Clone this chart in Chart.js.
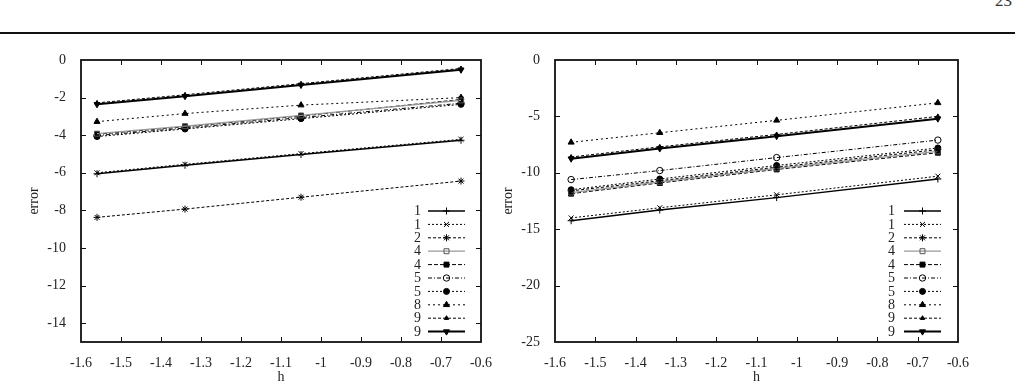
<!DOCTYPE html>
<html>
<head>
<meta charset="utf-8">
<script src="https://cdn.jsdelivr.net/npm/chart.js@4/dist/chart.umd.min.js"></script>
<style>
  html,body{margin:0;padding:0;background:#fff;}
  body{width:1015px;height:388px;position:relative;overflow:hidden;font-family:'Liberation Serif','Times New Roman',serif;}
  #rule{position:absolute;left:0;top:32px;width:1015px;height:0;border-top:2px solid #111;}
  #pg{position:absolute;right:3px;top:-9px;font-size:17px;color:#333;}
  .wrap{position:absolute;top:0;height:388px;}
</style>
</head>
<body>
<div id="rule"></div>
<div id="pg">23</div>
<div class="wrap" style="left:0;width:500px;"><canvas id="c1" width="500" height="388"></canvas></div>
<div class="wrap" style="left:500px;width:515px;"><canvas id="c2" width="515" height="388"></canvas></div>
<script>
// ---- data ----
const hVals = [-1.56, -1.34, -1.05, -0.65];
const seriesLabels = ['1','1','2','4','4','5','5','8','9','9'];
const xTicks = [-1.6,-1.5,-1.4,-1.3,-1.2,-1.1,-1.0,-0.9,-0.8,-0.7,-0.6];
const yTicksLeft = [0,-2,-4,-6,-8,-10,-12,-14];
const yTicksRight = [0,-5,-10,-15,-20,-25];

// left panel
const L1a = [-6.05, -5.60, -5.03, -4.27];
const L1b = [-6.00, -5.55, -4.98, -4.22];
const L2  = [-8.37, -7.93, -7.30, -6.44];
const L4a = [-3.92, -3.52, -2.95, -2.15];
const L4b = [-3.95, -3.55, -2.98, -2.10];
const L5a = [-4.02, -3.62, -3.06, -2.30];
const L5b = [-4.07, -3.67, -3.12, -2.36];
const L8  = [-3.28, -2.85, -2.40, -2.00];
const L9a = [-2.28, -1.85, -1.26, -0.45];
const L9b = [-2.36, -1.93, -1.33, -0.52];

// right panel
const R1a = [-14.25, -13.30, -12.20, -10.55];
const R1b = [-14.00, -13.10, -11.95, -10.30];
const R2  = [-11.60, -10.70, -9.50, -7.95];
const R4a = [-11.75, -10.80, -9.60, -8.10];
const R4b = [-11.85, -10.90, -9.70, -8.22];
const R5a = [-10.60, -9.80, -8.65, -7.10];
const R5b = [-11.50, -10.55, -9.35, -7.80];
const R8  = [-7.30, -6.45, -5.35, -3.80];
const R9a = [-8.60, -7.70, -6.60, -5.00];
const R9b = [-8.75, -7.85, -6.75, -5.20];

// ---- styles ----
const styles = [
  {borderColor:'#000', borderWidth:1.4, borderDash:[],        pointStyle:'cross',    pointRadius:3.5, fill:'#000'},
  {borderColor:'#000', borderWidth:1,   borderDash:[2,2],     pointStyle:'crossRot', pointRadius:3.5, fill:'#000'},
  {borderColor:'#000', borderWidth:1,   borderDash:[3,2],     pointStyle:'star',     pointRadius:3.5, fill:'#000'},
  {borderColor:'#999', borderWidth:1.2, borderDash:[],        pointStyle:'rect',     pointRadius:3.5, fill:'rgba(0,0,0,0)', pb:'#555'},
  {borderColor:'#000', borderWidth:1,   borderDash:[4,2],     pointStyle:'rect',     pointRadius:3.5, fill:'#000'},
  {borderColor:'#000', borderWidth:1,   borderDash:[4,2,1,2], pointStyle:'circle',   pointRadius:3.2, fill:'rgba(0,0,0,0)'},
  {borderColor:'#000', borderWidth:1,   borderDash:[2,2],     pointStyle:'circle',   pointRadius:3,   fill:'#000'},
  {borderColor:'#000', borderWidth:1,   borderDash:[2,3],     pointStyle:'triangle', pointRadius:3.5, fill:'#000'},
  {borderColor:'#000', borderWidth:1,   borderDash:[3,2],     pointStyle:'triangle', pointRadius:2.5, fill:'#000'},
  {borderColor:'#000', borderWidth:2,   borderDash:[],        pointStyle:'triangle', pointRadius:3.5, fill:'#000', rot:180}
];

function buildDatasets(arrs){
  return arrs.map((vals,i)=>{
    const s = styles[i];
    return {
      label: seriesLabels[i],
      data: vals.map((v,j)=>({x:hVals[j], y:v})),
      borderColor: s.borderColor, borderWidth: s.borderWidth, borderDash: s.borderDash,
      pointStyle: s.pointStyle, pointRadius: s.pointRadius, pointRotation: s.rot||0,
      pointBackgroundColor: s.fill, pointBorderColor: s.pb||'#000', pointBorderWidth: 1,
      fill:false, tension:0
    };
  });
}

const fontFam = "'Liberation Serif','Times New Roman',serif";
const FS = 14;
Chart.defaults.font.family = fontFam;
Chart.defaults.font.size = FS;
Chart.defaults.color = '#222';

const framePlugin = {
  id:'gpFrame',
  afterDraw(chart){
    const ctx = chart.ctx, a = chart.chartArea;
    const xs = chart.scales.x, ys = chart.scales.y;
    ctx.save();
    ctx.strokeStyle = '#111'; ctx.lineWidth = 1;
    ctx.beginPath();
    xs.ticks.forEach(t=>{
      if (t.value <= xs.min + 1e-9 || t.value >= xs.max - 1e-9) return;
      const p = Math.round(xs.getPixelForValue(t.value)) + 0.5;
      ctx.moveTo(p, a.bottom); ctx.lineTo(p, a.bottom - 5);
      ctx.moveTo(p, a.top); ctx.lineTo(p, a.top + 5);
    });
    ys.ticks.forEach(t=>{
      if (t.value <= ys.min + 1e-9 || t.value >= ys.max - 1e-9) return;
      const p = Math.round(ys.getPixelForValue(t.value)) + 0.5;
      ctx.moveTo(a.left, p); ctx.lineTo(a.left + 5, p);
      ctx.moveTo(a.right, p); ctx.lineTo(a.right - 5, p);
    });
    ctx.stroke();
    ctx.lineWidth = 1.8;
    ctx.strokeRect(a.left, a.top, a.right - a.left, a.bottom - a.top);
    ctx.restore();
  }
};

function drawMarker(ctx, ds, x, y){
  if (Chart.helpers && Chart.helpers.drawPoint){
    Chart.helpers.drawPoint(ctx, {pointStyle: ds.pointStyle, radius: ds.pointRadius, rotation: ds.pointRotation||0, borderWidth: ds.pointBorderWidth}, x, y);
  } else {
    ctx.beginPath(); ctx.arc(x,y,ds.pointRadius,0,Math.PI*2); ctx.fill(); ctx.stroke();
  }
}

const legendPlugin = {
  id:'gpLegend',
  afterDraw(chart, args, opts){
    const ctx = chart.ctx, a = chart.chartArea;
    ctx.save();
    chart.data.datasets.forEach((ds,i)=>{
      const y = a.bottom - opts.first + i*opts.step;
      ctx.font = "14px " + fontFam;
      ctx.textAlign = 'right'; ctx.textBaseline = 'middle'; ctx.fillStyle = '#222';
      ctx.fillText(ds.label, a.right - opts.labelGap, y + 0.5);
      const x1 = a.right - opts.x1, x2 = a.right - opts.x2;
      ctx.beginPath();
      ctx.setLineDash(ds.borderDash||[]);
      ctx.lineWidth = ds.borderWidth; ctx.strokeStyle = ds.borderColor;
      ctx.moveTo(x1,y); ctx.lineTo(x2,y); ctx.stroke();
      ctx.setLineDash([]);
      ctx.fillStyle = ds.pointBackgroundColor; ctx.strokeStyle = ds.pointBorderColor; ctx.lineWidth = ds.pointBorderWidth;
      drawMarker(ctx, ds, (x1+x2)/2, y);
    });
    ctx.restore();
  }
};

function makeChart(id, arrs, yMin, yTicks, yWidth, padRight, yTitlePad, legendOpts){
  return new Chart(document.getElementById(id), {
    type:'line',
    data:{datasets: buildDatasets(arrs)},
    options:{
      responsive:false, animation:false, devicePixelRatio:1,
      layout:{padding:{top:60, right:padRight, left:0, bottom:0}},
      plugins:{legend:{display:false}, tooltip:{enabled:false}, gpLegend: legendOpts},
      scales:{
        x:{type:'linear', min:-1.6, max:-0.6,
           grid:{display:false}, border:{display:false},
           afterBuildTicks:(s)=>{ s.ticks = xTicks.map(v=>({value:v})); },
           afterFit:(s)=>{ s.height = 46; },
           ticks:{padding:5, color:'#222', font:{size:FS}, maxRotation:0, autoSkip:false,
                  callback:(v)=>String(Number(Number(v).toFixed(1)))},
           title:{display:true, text:'h', color:'#222', font:{size:FS}, padding:{top:0,bottom:2}}
        },
        y:{type:'linear', min:yMin, max:0,
           grid:{display:false}, border:{display:false},
           afterBuildTicks:(s)=>{ s.ticks = yTicks.map(v=>({value:v})); },
           afterFit:(s)=>{ s.width = yWidth; },
           ticks:{padding:7, color:'#222', font:{size:FS}, autoSkip:false,
                  callback:(v)=>String(v)},
           title:{display:true, text:'error', color:'#222', font:{size:FS}, padding:{top:yTitlePad,bottom:0}}
        }
      }
    },
    plugins:[framePlugin, legendPlugin]
  });
}

makeChart('c1', [L1a,L1b,L2,L4a,L4b,L5a,L5b,L8,L9a,L9b], -15, yTicksLeft, 81, 19, 26,
  {first:131, step:13.4, labelGap:60, x1:53, x2:16});
makeChart('c2', [R1a,R1b,R2,R4a,R4b,R5a,R5b,R8,R9a,R9b], -25, yTicksRight, 55, 57, 0,
  {first:131, step:13.4, labelGap:63, x1:54, x2:17});
</script>
</body>
</html>
